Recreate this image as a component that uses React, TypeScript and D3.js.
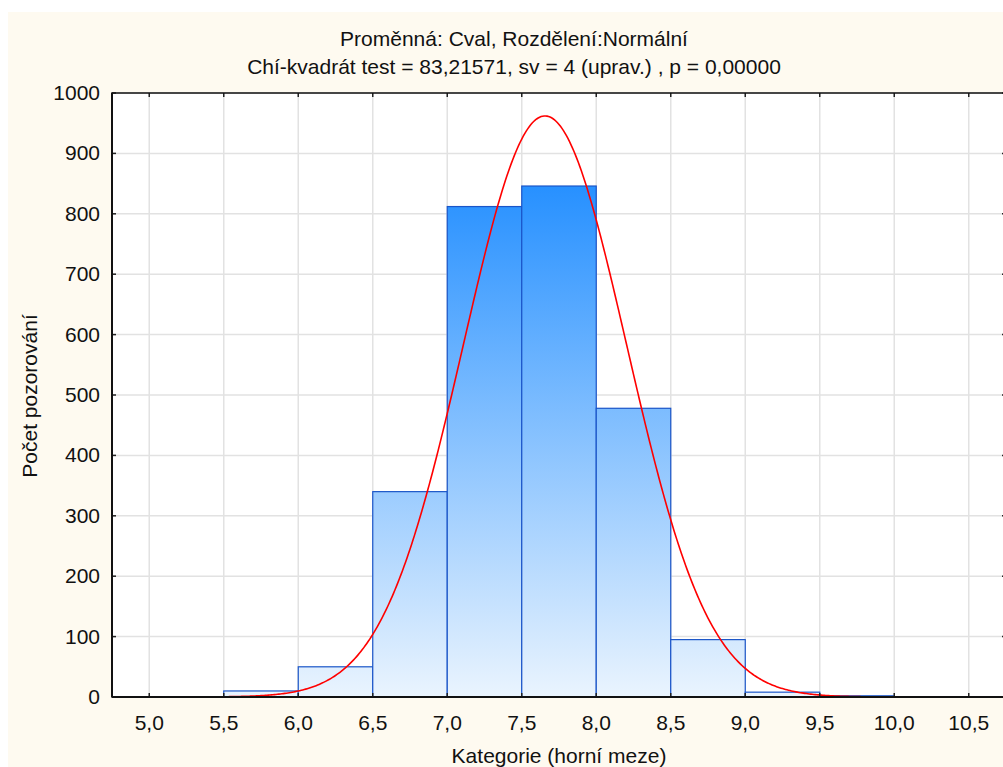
import React from "react";
import * as d3 from "d3";

const binStarts = [5.0, 5.5, 6.0, 6.5, 7.0, 7.5, 8.0, 8.5, 9.0, 9.5];
const binCounts = [0, 10, 50, 340, 812, 846, 478, 95, 8, 2];
const binWidth = 0.5;
const xTicks = [5.0, 5.5, 6.0, 6.5, 7.0, 7.5, 8.0, 8.5, 9.0, 9.5, 10.0, 10.5];
const yTicks = [0, 100, 200, 300, 400, 500, 600, 700, 800, 900, 1000];
const fitMean = 7.656;
const fitSd = 0.5476;
const fitN = 2641;

const W = 1003;
const H = 767;
const left = 112;
const right = 1006;
const top = 93;
const bottom = 697;
const font = "'Liberation Sans', Arial, sans-serif";

export default function App() {
  const x = d3.scaleLinear().domain([4.75, 10.75]).range([left, right]);
  const y = d3.scaleLinear().domain([0, 1000]).range([bottom, top]);
  const fmt = (v: number) => v.toFixed(1).replace(".", ",");

  const curveXs = d3.range(4.75, 10.7501, 0.01);
  const pdf = (v: number) =>
    (fitN * binWidth * Math.exp(-((v - fitMean) ** 2) / (2 * fitSd * fitSd))) /
    (fitSd * Math.sqrt(2 * Math.PI));
  const line = d3
    .line<number>()
    .x((d) => x(d))
    .y((d) => y(pdf(d)));

  return (
    <svg
      width={W}
      height={H}
      style={{ position: "absolute", left: 0, top: 0, display: "block" }}
      fontFamily={font}
    >
      <defs>
        <linearGradient id="barGrad" gradientUnits="userSpaceOnUse" x1={0} y1={top} x2={0} y2={bottom}>
          <stop offset="0%" stopColor="#0a84ff" />
          <stop offset="15%" stopColor="#2690ff" />
          <stop offset="100%" stopColor="#eaf4fe" />
        </linearGradient>
        <clipPath id="plotClip">
          <rect x={left} y={top} width={right - left} height={bottom - top} />
        </clipPath>
      </defs>
      <rect x={0} y={0} width={W} height={H} fill="#ffffff" />
      <rect x={8} y={12} width={W - 8} height={H - 12} fill="#fefaf0" />
      <rect x={left} y={top} width={right - left} height={bottom - top} fill="#ffffff" />

      {/* grid */}
      <g stroke="#e2e2e2" strokeWidth={1.5}>
        {xTicks.map((t) => (
          <line key={"gx" + t} x1={x(t)} x2={x(t)} y1={top} y2={bottom} />
        ))}
        {yTicks.map((t) => (
          <line key={"gy" + t} x1={left} x2={right} y1={y(t)} y2={y(t)} />
        ))}
      </g>

      {/* bars */}
      <g>
        {binStarts.map((s, i) => (
          <rect
            key={"b" + i}
            x={x(s)}
            y={y(binCounts[i])}
            width={x(s + binWidth) - x(s)}
            height={y(0) - y(binCounts[i])}
            fill="url(#barGrad)"
            stroke="#1a55c8"
            strokeWidth={1.2}
          />
        ))}
      </g>

      {/* fitted curve */}
      <path d={line(curveXs) || ""} fill="none" stroke="#ff0000" strokeWidth={1.6} clipPath="url(#plotClip)" />

      {/* ticks */}
      <g stroke="#222" strokeWidth={1.5}>
        {xTicks.map((t) => (
          <g key={"tx" + t}>
            <line x1={x(t)} x2={x(t)} y1={bottom} y2={bottom - 4} />
            <line x1={x(t)} x2={x(t)} y1={top} y2={top + 4} />
          </g>
        ))}
        {yTicks.map((t) => (
          <g key={"ty" + t}>
            <line x1={left} x2={left + 4} y1={y(t)} y2={y(t)} />
            <line x1={right} x2={right - 4} y1={y(t)} y2={y(t)} />
          </g>
        ))}
      </g>

      {/* frame */}
      <rect x={left} y={top} width={right - left} height={bottom - top} fill="none" stroke="#111" strokeWidth={1.5} />
      <line x1={left} x2={right} y1={bottom} y2={bottom} stroke="#111" strokeWidth={2} />
      <line x1={left} x2={left} y1={top} y2={bottom} stroke="#111" strokeWidth={2} />

      {/* tick labels */}
      <g fontSize={21} fill="#111">
        {yTicks.map((t) => (
          <text key={"ly" + t} x={left - 12} y={y(t) + 7} textAnchor="end">
            {t}
          </text>
        ))}
        {xTicks.map((t) => (
          <text key={"lx" + t} x={x(t)} y={730} textAnchor="middle">
            {fmt(t)}
          </text>
        ))}
      </g>

      {/* titles */}
      <g fontSize={21} fill="#111" textAnchor="middle">
        <text x={514} y={46}>Proměnná: Cval, Rozdělení:Normální</text>
        <text x={514} y={74}>Chí-kvadrát test = 83,21571, sv = 4 (uprav.) , p = 0,00000</text>
        <text x={559} y={763}>Kategorie (horní meze)</text>
        <text transform={`translate(37, ${(top + bottom) / 2 + 1}) rotate(-90)`}>Počet pozorování</text>
      </g>
    </svg>
  );
}
